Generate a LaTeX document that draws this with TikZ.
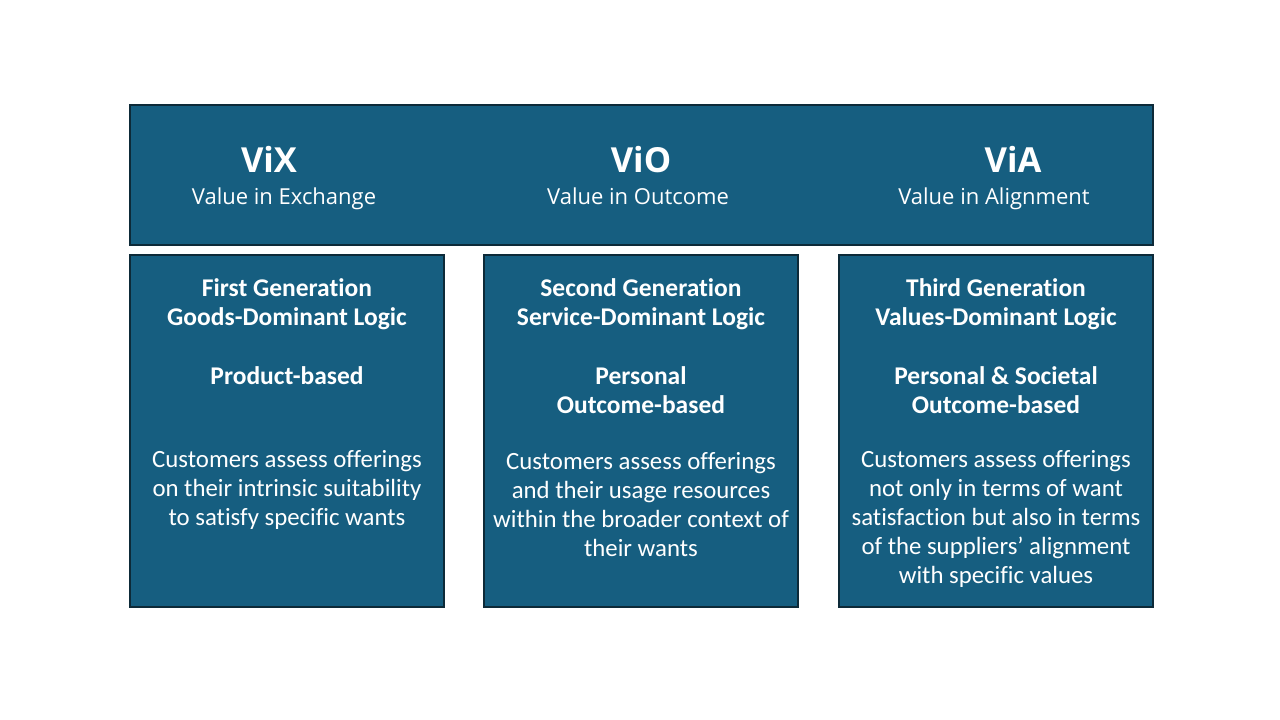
\documentclass[tikz,border=0pt]{standalone}
\usepackage{fontspec}
\setmainfont{Carlito}[Ligatures=NoCommon]
\newfontfamily\headfont{Open Sans}
\definecolor{boxfill}{HTML}{165E80}
\definecolor{boxline}{HTML}{0D2A38}
\begin{document}
\begin{tikzpicture}[x=1pt,y=1pt,
  panel/.style={draw=boxline,line width=1.5pt,fill=boxfill},
  big/.style={text=white,font=\headfont\bfseries\fontsize{34.5}{40}\selectfont,inner sep=0,text height=25pt,text depth=0pt},
  sub/.style={text=white,font=\headfont\fontsize{22}{26}\selectfont,inner sep=0,text height=16pt,text depth=5pt},
  ttl/.style={text=white,font=\bfseries\fontsize{25.5}{29}\selectfont,align=center,inner sep=0},
  body/.style={text=white,font=\fontsize{24.8}{29}\selectfont,align=center,inner sep=0}]
\useasboundingbox (0,0) rectangle (1280,720);
\fill[white] (0,0) rectangle (1280,720);
% panels
\draw[panel] (130,615) rectangle (1153,475);
\draw[panel] (130,465) rectangle (444,113);
\draw[panel] (484,465) rectangle (798,113);
\draw[panel] (839,465) rectangle (1153,113);
% header texts
\node[big] (vix) at (269,560) {ViX};
\node[sub] (vixs) at (284,521) {Value in Exchange};
\node[big] (vio) at (641,560) {ViO};
\node[sub] (vios) at (638,521) {Value in Outcome};
\node[big] (via) at (1013,560) {ViA};
\node[sub] (vias) at (994,521) {Value in Alignment};
% column 1
\node[ttl] (t1) at (287,416) {First Generation\\Goods-Dominant Logic};
\node[ttl] (p1) at (287,344) {Product-based};
\node[body] (b1) at (287,230) {Customers assess offerings\\on their intrinsic suitability\\to satisfy specific wants};
% column 2
\node[ttl] (t2) at (641,416) {Second Generation\\Service-Dominant Logic};
\node[ttl] (p2) at (641,329.5) {Personal\\Outcome-based};
\node[body] (b2) at (641,215.5) {Customers assess offerings\\and their usage resources\\within the broader context of\\their wants};
% column 3
\node[ttl] (t3) at (996,416) {Third Generation\\Values-Dominant Logic};
\node[ttl] (p3) at (996,329.5) {Personal \& Societal\\Outcome-based};
\node[body] (b3) at (996,201) {Customers assess offerings\\not only in terms of want\\satisfaction but also in terms\\of the suppliers’ alignment\\with specific values};
\end{tikzpicture}
\end{document}
